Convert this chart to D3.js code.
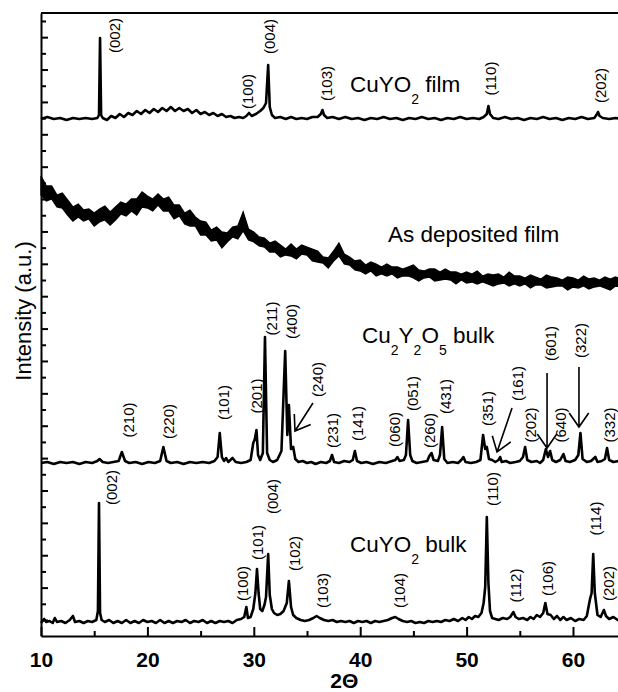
<!DOCTYPE html>
<meta charset="utf-8">
<style>
body { margin: 0; background: #fff; }
svg { display: block; font-family: Arial, "Liberation Sans", sans-serif; }
.axis path, .axis line { stroke: #000; stroke-width: 2; }
.axis text { font-size: 21px; font-weight: bold; fill: #000; font-family: Arial, "Liberation Sans", sans-serif; }
.spec { fill: none; stroke: #000; stroke-width: 2.6; stroke-linejoin: round; }
.band { fill: #000; stroke: #000; stroke-width: 1.3; stroke-linejoin: miter; }
.hkl { font-size: 15px; fill: #000; }
.title { font-size: 22.5px; fill: #000; }
.arrow { stroke: #000; stroke-width: 1.6; fill: none; }
</style>
<svg width="618" height="692"></svg>
<script src="https://d3js.org/d3.v7.min.js"></script>
<script>
// stacking offset of each pattern (a.u.)
var panelOffsets = {film: 517, asdep: 350, cu2: 173, bulk: 13};

// CuYO2 film: [2theta, intensity]
var filmPts = [[10,0],[10.6,2],[11.2,0],[11.8,1],[12.4,-1],[13,1],[13.6,0],[14.2,1],[14.8,0],[15.3,1],[15.45,4],[15.55,81],[15.65,4],[15.8,1],[16.2,-1],[16.6,3],[17,1],[17.4,5],[17.8,2],[18.2,6],[18.6,4],[19,8],[19.4,5],[19.8,9],[20.2,6],[20.6,10],[21,7],[21.4,11],[21.8,8],[22.2,12],[22.6,8],[23,11],[23.4,8],[23.8,10],[24.2,6],[24.6,9],[25,5],[25.4,7],[25.8,4],[26.2,6],[26.6,3],[27,5],[27.4,2],[27.8,3],[28.2,1],[28.6,2],[29,1],[29.3,3],[29.55,6],[29.8,3],[30.2,5],[30.6,8],[30.9,11],[31.15,16],[31.35,54],[31.5,12],[31.7,4],[32,1],[32.5,2],[33,0],[33.5,2],[34,0],[34.5,1],[35,0],[35.5,2],[36,2],[36.3,5],[36.45,9],[36.6,4],[36.9,1],[37.4,2],[38,0],[38.6,2],[39.2,0],[39.8,1],[40.4,-1],[41,1],[41.6,0],[42.2,2],[42.8,0],[43.4,1],[44,-1],[44.6,1],[45.2,0],[45.8,2],[46.4,0],[47,1],[47.6,-1],[48.2,1],[48.8,0],[49.4,2],[50,0],[50.6,1],[51.2,0],[51.6,2],[51.9,5],[52.05,13],[52.2,5],[52.5,1],[53,0],[53.6,2],[54.2,0],[54.8,1],[55.4,-1],[56,1],[56.6,0],[57.2,2],[57.8,0],[58.4,1],[59,-1],[59.6,1],[60.2,0],[60.8,2],[61.4,0],[62,1],[62.2,4],[62.35,7],[62.5,3],[62.8,1],[63.4,0],[64,1],[64.6,0],[65,1]];

// As deposited film, sampled every 0.5 deg from 10 to 65:
// centre of the noisy trace, and how far the noise reaches above / below it
var asdepStart = 10, asdepStep = 0.5;
var asdepMid = [98,95,91,87,83,80,76,73,71,70,69,69,70,71,73,75,78,80,82,83,84,84,84,82,80,77,74,70,66,63,60,56,52,50,48,50,52,55,60,53,48,45,42,40,38,36,34,34,33,35,36,32,28,26,24,29,35,29,24,21,19,18,18,17,16,15,15,14,14,13,13,12,12,12,11,11,10,10,9,9,8,8,8,7,7,7,6,6,6,6,5,5,5,5,4,4,4,4,3,3,3,3,3,3,3,3,3,3,4,4,5];
var asdepUp = [12,5,9,4,10,6,3,9,5,7,4,8,10,3,6,9,4,7,5,11,6,3,8,5,9,4,7,3,10,6,5,8,4,9,6,3,7,5,14,4,6,4,6,3,7,5,3,8,4,6,3,5,7,3,4,6,8,3,5,4,7,3,6,5,3,7,4,5,3,6,8,4,3,5,6,3,7,4,5,3,6,4,7,3,5,4,6,3,8,4,5,3,6,4,3,7,5,4,3,6,5,3,7,4,5,3,6,4,5,3,6];
var asdepDown = [7,10,4,8,5,9,11,4,6,3,9,5,4,10,7,3,8,5,11,4,6,9,3,7,5,10,4,8,6,3,9,5,7,4,10,6,3,8,5,7,4,5,3,6,4,7,3,4,6,3,5,7,4,3,6,4,5,7,3,5,4,6,3,7,4,5,3,6,4,3,5,7,4,3,6,5,3,4,7,3,5,4,6,3,5,7,4,3,6,4,5,3,7,4,3,6,5,4,3,7,4,5,3,6,4,3,5,7,4,5,3];

// Cu2Y2O5 bulk
var cu2Pts = [[10,0],[10.6,1],[11.2,-1],[11.8,1],[12.4,0],[13,1],[13.6,-1],[14.2,1],[14.8,0],[15.3,2],[15.5,4],[15.8,1],[16.3,0],[16.8,1],[17.3,2],[17.6,11],[17.9,2],[18.3,0],[18.9,1],[19.5,-1],[20.1,1],[20.7,0],[21.2,2],[21.5,16],[21.8,2],[22.2,0],[22.8,1],[23.4,-1],[24,1],[24.6,0],[25.2,1],[25.8,0],[26.3,2],[26.6,6],[26.8,30],[27.0,6],[27.2,2],[27.4,5],[27.6,1],[28,5],[28.3,1],[28.8,0],[29.3,1],[29.7,3],[29.95,20],[30.1,24],[30.25,33],[30.4,8],[30.6,3],[30.85,10],[31.05,126],[31.25,10],[31.5,3],[31.8,1],[32.2,3],[32.6,12],[32.95,112],[33.15,28],[33.3,58],[33.5,14],[33.7,16],[33.9,4],[34.2,1],[34.6,2],[35,0],[35.4,1],[35.8,-1],[36.3,1],[36.8,0],[37.15,2],[37.35,8],[37.55,1],[38,0],[38.5,2],[39,1],[39.3,3],[39.5,12],[39.7,2],[40.1,0],[40.6,1],[41.2,-1],[41.8,1],[42.4,0],[43,2],[43.3,3],[43.5,6],[43.7,2],[44.1,3],[44.3,8],[44.5,43],[44.7,8],[44.9,2],[45.3,0],[45.8,1],[46.3,2],[46.5,7],[46.7,10],[46.9,3],[47.3,2],[47.5,8],[47.7,36],[47.9,4],[48.2,0],[48.7,1],[49.2,0],[49.5,3],[49.7,6],[49.9,1],[50.4,0],[50.9,1],[51.3,3],[51.55,28],[51.75,14],[51.9,16],[52.1,4],[52.4,3],[52.7,1],[53,3],[53.15,6],[53.3,1],[53.7,2],[54.1,0],[54.6,1],[55,2],[55.3,6],[55.5,16],[55.7,3],[56.1,1],[56.6,2],[56.9,0],[57.2,3],[57.45,14],[57.65,6],[57.85,12],[58.05,3],[58.4,1],[58.8,3],[59.1,9],[59.3,2],[59.7,1],[60.2,3],[60.5,8],[60.7,30],[60.9,4],[61.3,1],[61.7,2],[62.1,6],[62.3,1],[62.7,2],[63.0,4],[63.2,15],[63.4,3],[63.8,1],[64.3,2],[64.7,0],[65,1]];

// CuYO2 bulk
var bulkPts = [[10,0],[10.3,4],[10.5,1],[10.8,2],[11.1,0],[11.3,5],[11.5,1],[11.9,2],[12.3,0],[12.7,3],[13.0,7],[13.2,1],[13.6,2],[14.0,0],[14.4,2],[14.8,1],[15.2,3],[15.35,12],[15.45,120],[15.55,10],[15.7,3],[16.0,1],[16.4,3],[16.8,0],[17.2,2],[17.6,0],[18,3],[18.4,0],[18.8,2],[19.2,0],[19.6,3],[20,1],[20.4,2],[20.8,0],[21.2,3],[21.6,0],[22,2],[22.4,0],[22.8,2],[23.2,1],[23.6,3],[24,0],[24.4,2],[24.8,1],[25.2,3],[25.6,0],[26,2],[26.4,0],[26.8,2],[27.2,1],[27.6,2],[28,0],[28.4,3],[28.8,4],[29.1,6],[29.3,16],[29.45,5],[29.7,6],[29.95,14],[30.15,30],[30.3,54],[30.45,30],[30.6,14],[30.8,12],[31.0,18],[31.15,26],[31.35,69],[31.5,28],[31.7,14],[31.9,10],[32.2,8],[32.5,9],[32.8,12],[33.1,20],[33.3,42],[33.5,16],[33.7,8],[34,5],[34.4,3],[34.8,2],[35.2,3],[35.6,5],[35.9,7],[36.2,5],[36.6,3],[37,2],[37.4,3],[37.8,1],[38.2,2],[38.6,1],[39,2],[39.4,0],[39.8,2],[40.2,1],[40.6,2],[41,0],[41.4,2],[41.8,1],[42.2,2],[42.6,3],[43,5],[43.3,6],[43.6,4],[44,2],[44.4,1],[44.8,2],[45.2,0],[45.6,1],[46,0],[46.4,2],[46.8,1],[47.2,2],[47.6,1],[48,3],[48.4,2],[48.8,4],[49.2,2],[49.6,5],[49.9,3],[50.2,6],[50.5,4],[50.8,7],[51.1,6],[51.4,10],[51.6,20],[51.75,36],[51.9,106],[52.05,40],[52.2,12],[52.4,5],[52.7,4],[53,3],[53.4,5],[53.8,4],[54.1,6],[54.4,11],[54.6,6],[54.9,4],[55.3,5],[55.7,3],[56,6],[56.3,4],[56.6,8],[56.9,6],[57.2,10],[57.4,20],[57.6,9],[57.9,8],[58.2,4],[58.5,7],[58.8,3],[59.1,6],[59.4,3],[59.8,5],[60.2,2],[60.6,4],[61,3],[61.3,7],[61.6,24],[61.75,30],[61.9,69],[62.05,30],[62.3,8],[62.6,6],[62.9,13],[63.1,7],[63.4,4],[63.8,6],[64.2,3],[64.6,5],[65,3]];

// hkl labels: [text, 2theta, intensity above the pattern baseline]
var filmLabels = [["(002)",16.95,83.5],["(004)",31.52,82.5],["(100)",29.45,27.5],["(103)",36.79,35.5],["(110)",52.29,40.5],["(202)",62.63,33.5]];
var cu2Labels = [["(210)",18.18,43],["(220)",21.94,41.5],["(101)",27.11,60.5],["(201)",30.21,67],["(211)",31.62,144.5],["(400)",33.5,141.5],["(240)",36.03,83.5],["(231)",37.35,32.5],["(141)",39.7,39.5],["(060)",43.27,33.5],["(051)",44.96,69.5],["(260)",46.56,32.5],["(431)",47.97,66.5],["(351)",51.92,54.5],["(161)",54.74,79.5],["(202)",55.96,38],["(601)",57.84,119.5],["(640)",58.78,38],["(322)",60.66,122.5],["(332)",63.4,38]];
var bulkLabels = [["(002)",16.67,135.5],["(100)",28.98,39.5],["(101)",30.39,80.5],["(004)",31.8,126.5],["(102)",33.87,69.5],["(103)",36.41,32.5],["(104)",43.65,32.5],["(110)",52.39,134],["(112)",54.64,37.5],["(106)",57.56,44.5],["(114)",62.16,104.5],["(202)",63.29,39.5]];

// arrows in the Cu2Y2O5 pattern: [tail 2theta, tail I, tip 2theta, tip I]
var cu2Arrows = [[35.56,60,33.87,32],[54.27,55,52.86,11],[57.56,90,57.56,15],[60.56,96,60.56,36]];

// pattern names: [offset key, 2theta, intensity, parts]
var titles = [
  ["film", 39.04, 27, [["CuYO",0],["2",1],[" film",0]]],
  ["asdep", 42.61, 44, [["As deposited film",0]]],
  ["cu2", 40.17, 120, [["Cu",0],["2",1],["Y",0],["2",1],["O",0],["5",1],[" bulk",0]]],
  ["bulk", 39.04, 71, [["CuYO",0],["2",1],[" bulk",0]]]
];

var xMajor = [10, 20, 30, 40, 50, 60];
var xMinor = [15, 25, 35, 45, 55, 65];
</script>
<script>
var svg = d3.select("svg");

var x = d3.scaleLinear().domain([10, 65]).range([41, 626.2]);
var y = d3.scaleLinear().domain([0, 623]).range([636, 13]);

function lineAt(off) {
  return d3.line()
    .x(function(d) { return x(d[0]); })
    .y(function(d) { return y(d[1] + off); });
}

var g = svg.append("g");

// as deposited band
var asdep = asdepMid.map(function(m, i) { return [asdepStart + i * asdepStep, m + asdepUp[i], m - asdepDown[i]]; });
g.append("path")
  .attr("class", "band")
  .attr("d", d3.area()
    .x(function(d) { return x(d[0]); })
    .y0(function(d) { return y(d[2] + panelOffsets.asdep); })
    .y1(function(d) { return y(d[1] + panelOffsets.asdep); })(asdep));

g.append("path").attr("class", "spec").attr("d", lineAt(panelOffsets.film)(filmPts));
g.append("path").attr("class", "spec").attr("d", lineAt(panelOffsets.cu2)(cu2Pts)).attr("stroke-width", 2.2);
g.append("path").attr("class", "spec").attr("d", lineAt(panelOffsets.bulk)(bulkPts));

// hkl labels
function addLabels(list, off) {
  g.append("g").selectAll("text")
    .data(list)
    .enter().append("text")
      .attr("class", "hkl")
      .attr("text-anchor", "middle")
      .attr("dominant-baseline", "central")
      .attr("transform", function(d) { return "translate(" + x(d[1]) + "," + y(d[2] + off) + ") rotate(-90)"; })
      .text(function(d) { return d[0]; });
}
addLabels(filmLabels, panelOffsets.film);
addLabels(cu2Labels, panelOffsets.cu2);
addLabels(bulkLabels, panelOffsets.bulk);

// arrows
cu2Arrows.forEach(function(a) {
  var x1 = x(a[0]), y1 = y(a[1] + panelOffsets.cu2), x2 = x(a[2]), y2 = y(a[3] + panelOffsets.cu2);
  var dx = x1 - x2, dy = y1 - y2, len = Math.sqrt(dx * dx + dy * dy);
  dx /= len; dy /= len;
  var ang = 35 * Math.PI / 180, b = 17;
  var b1 = [x2 + b * (dx * Math.cos(ang) - dy * Math.sin(ang)), y2 + b * (dx * Math.sin(ang) + dy * Math.cos(ang))];
  var b2 = [x2 + b * (dx * Math.cos(-ang) - dy * Math.sin(-ang)), y2 + b * (dx * Math.sin(-ang) + dy * Math.cos(-ang))];
  g.append("path").attr("class", "arrow")
    .attr("d", "M" + x1 + "," + y1 + "L" + x2 + "," + y2 + "M" + b1 + "L" + x2 + "," + y2 + "L" + b2);
});

// pattern names
titles.forEach(function(t) {
  var txt = g.append("text").attr("class", "title")
    .attr("x", x(t[1])).attr("y", y(t[2] + panelOffsets[t[0]]));
  var down = false;
  t[3].forEach(function(p) {
    var ts = txt.append("tspan").text(p[0]);
    if (p[1] && !down) { ts.attr("dy", 12).attr("font-size", 14); down = true; }
    else if (p[1]) { ts.attr("font-size", 14); }
    else if (down) { ts.attr("dy", -12); down = false; }
  });
});

// axes
svg.append("g").attr("class", "axis")
  .attr("transform", "translate(0,636)")
  .call(d3.axisBottom(x).tickValues(xMajor).tickSizeInner(-9).tickSizeOuter(0).tickPadding(16))
  .call(function(s) { s.selectAll("text").attr("dy", "0.71em"); });
svg.append("g").attr("class", "axis")
  .attr("transform", "translate(0,636)")
  .call(d3.axisBottom(x).tickValues(xMinor).tickSizeInner(-5).tickSizeOuter(0).tickFormat(""))
  .call(function(s) { s.select(".domain").remove(); });

var yTicks = d3.range(38).map(function(i) { return 16 + i * 16.19; });
svg.append("g").attr("class", "axis")
  .attr("transform", "translate(41,0)")
  .call(d3.axisLeft(y).tickValues(yTicks.filter(function(d, i) { return i % 2 == 0; })).tickSizeInner(-7).tickSizeOuter(0).tickFormat(""));
svg.append("g").attr("class", "axis")
  .attr("transform", "translate(41,0)")
  .call(d3.axisLeft(y).tickValues(yTicks.filter(function(d, i) { return i % 2 == 1; })).tickSizeInner(-5).tickSizeOuter(0).tickFormat(""))
  .call(function(s) { s.select(".domain").remove(); });

// top frame line
svg.append("line")
  .attr("x1", x(10)).attr("x2", x(65))
  .attr("y1", y(623)).attr("y2", y(623))
  .attr("stroke", "#000").attr("stroke-width", 2);

// axis titles
svg.append("text")
  .attr("transform", "translate(31,311) rotate(-90)")
  .attr("text-anchor", "middle")
  .attr("font-size", 22)
  .text("Intensity (a.u.)");

svg.append("text")
  .attr("x", x(38.5)).attr("y", 688)
  .attr("text-anchor", "middle")
  .attr("font-size", 21).attr("font-weight", "bold")
  .text("2\u0398");
</script>
